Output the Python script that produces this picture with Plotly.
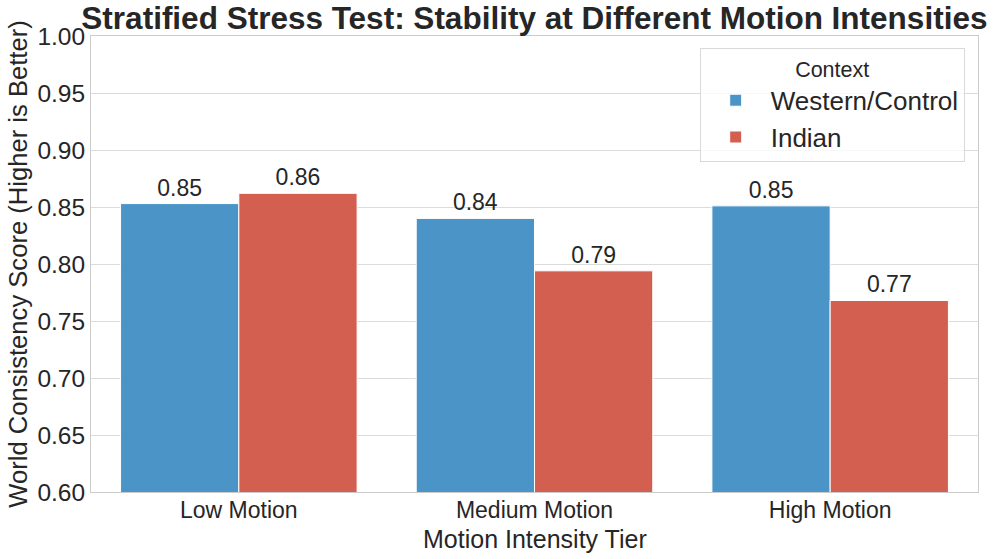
import plotly.graph_objects as go

categories = ["Low Motion", "Medium Motion", "High Motion"]
western = [0.853, 0.840, 0.851]
indian = [0.862, 0.794, 0.768]
series_names = ["Western/Control", "Indian"]
colors = ["#4a94c7", "#d35f50"]

fig = go.Figure()
for name, vals, col in zip(series_names, [western, indian], colors):
    fig.add_trace(go.Bar(
        x=categories, y=vals, name=name,
        marker=dict(color=col, line=dict(color="white", width=1)),
        text=[f"{v:.2f}" for v in vals], textposition="outside",
        textfont=dict(size=23, color="#262626"), cliponaxis=False,
    ))

fig.update_layout(
    width=997, height=559,
    margin=dict(l=91, r=19, t=36, b=67, autoexpand=False),
    paper_bgcolor="white", plot_bgcolor="white",
    font=dict(family="Liberation Sans, Arial, sans-serif", color="#262626"),
    barmode="group", bargap=0.2, bargroupgap=0,
    title=dict(text="<b>Stratified Stress Test: Stability at Different Motion Intensities</b>",
               x=0.536, xanchor="center", y=0.968, yanchor="middle",
               font=dict(size=31.5, color="#262626")),
    legend=dict(
        x=0.985, xanchor="right", y=0.974, yanchor="top",
        bgcolor="rgba(255,255,255,0.8)", bordercolor="#d9d9d9", borderwidth=1,
        font=dict(size=26), itemwidth=60,
        title=dict(text="Context", side="top center", font=dict(size=21.5)),
    ),
    annotations=[dict(
        text="Motion Intensity Tier", xref="paper", yref="paper",
        x=0.5, y=-0.102, xanchor="center", yanchor="middle",
        showarrow=False, font=dict(size=25, color="#262626"),
    )],
)
fig.update_yaxes(
    range=[0.6, 1.0], dtick=0.05, tickformat=".2f", automargin=False,
    showgrid=True, gridcolor="#dcdcdc", gridwidth=1,
    showline=True, linecolor="#cccccc", mirror=True, zeroline=False,
    ticks="", tickfont=dict(size=24.5),
    title=dict(text="World Consistency Score (Higher is Better)", font=dict(size=25.6), standoff=2),
)
fig.update_xaxes(
    showgrid=False, showline=True, linecolor="#cccccc", mirror=True, automargin=False,
    ticks="", tickfont=dict(size=23), ticklabelstandoff=-3,
)

fig.write_html("out.html", config={"displayModeBar": False},
               post_script="document.body.style.margin='0';")
